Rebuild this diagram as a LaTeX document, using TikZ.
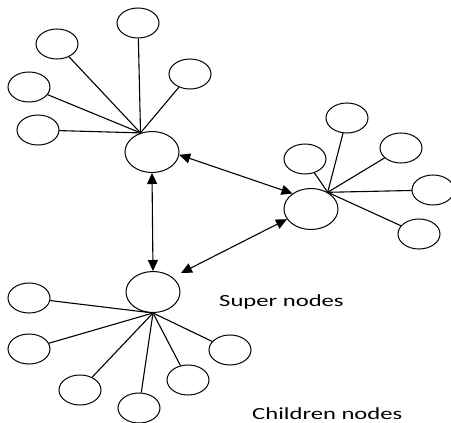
\documentclass[tikz,border=0pt]{standalone}
\usepackage{fontspec}
\setmainfont{Carlito}
\usetikzlibrary{shapes.geometric,arrows.meta,calc}

\tikzset{
  child/.style={ellipse, draw, line width=1pt, minimum width=42pt, minimum height=30pt, inner sep=0pt},
  super/.style={ellipse, draw, line width=1pt, minimum width=54pt, minimum height=41pt, inner sep=0pt},
  link/.style={line width=1.1pt},
  peer/.style={line width=1.1pt, {Triangle[length=11pt,width=10pt]}-{Triangle[length=11pt,width=10pt]}},
  caption/.style={font=\fontsize{17}{20}\selectfont, inner sep=0pt, anchor=base west}
}

\begin{document}
\begin{tikzpicture}[x=1pt,y=-1pt]
\useasboundingbox (0,0) rectangle (451,423);

% super nodes
\node[super] (s1) at (152,152) {};
\node[super] (s2) at (311,209) {};
\node[super] (s3) at (153,292) {};

% children of the upper-left super node
\node[child] (a1) at (138,23) {};
\node[child] (a2) at (57,44) {};
\node[child] (a3) at (29,87) {};
\node[child] (a4) at (38,130) {};
\node[child] (a5) at (190,74) {};

% children of the right super node
\node[child] (b1) at (305,159) {};
\node[child] (b2) at (347,118) {};
\node[child] (b3) at (401,148) {};
\node[child] (b4) at (433,190) {};
\node[child] (b5) at (419,234) {};

% children of the lower super node
\node[child] (c1) at (29,298) {};
\node[child] (c2) at (29,349) {};
\node[child] (c3) at (80,390) {};
\node[child] (c4) at (139,408) {};
\node[child] (c5) at (188,380) {};
\node[child] (c6) at (230,350) {};

% points where the child links meet each super node
\coordinate (h1) at (s1.121);
\coordinate (h2) at (s2.45);
\coordinate (h3) at (s3.south);

\foreach \c in {a1,a2,a3,a4,a5} \draw[link] (\c) -- (h1);
\foreach \c in {b1,b2,b3,b4,b5} \draw[link] (\c) -- (h2);
\foreach \c in {c1,c2,c3,c4,c5,c6} \draw[link] (\c) -- (h3);

% links between super nodes
\coordinate (t3) at ($(s3.center)+(28,-19)$);
\draw[peer] (s1.-6) -- (s2.140);
\draw[peer] (s1.south) -- (s3.north);
\draw[peer] (t3) -- (s2.203);

% labels
\node[caption] (lsuper) at (219,306) {\scalebox{1.45}[1]{Super nodes}};
\node[caption] (lchild) at (252,419) {\scalebox{1.45}[1]{Children nodes}};
\end{tikzpicture}
\end{document}
